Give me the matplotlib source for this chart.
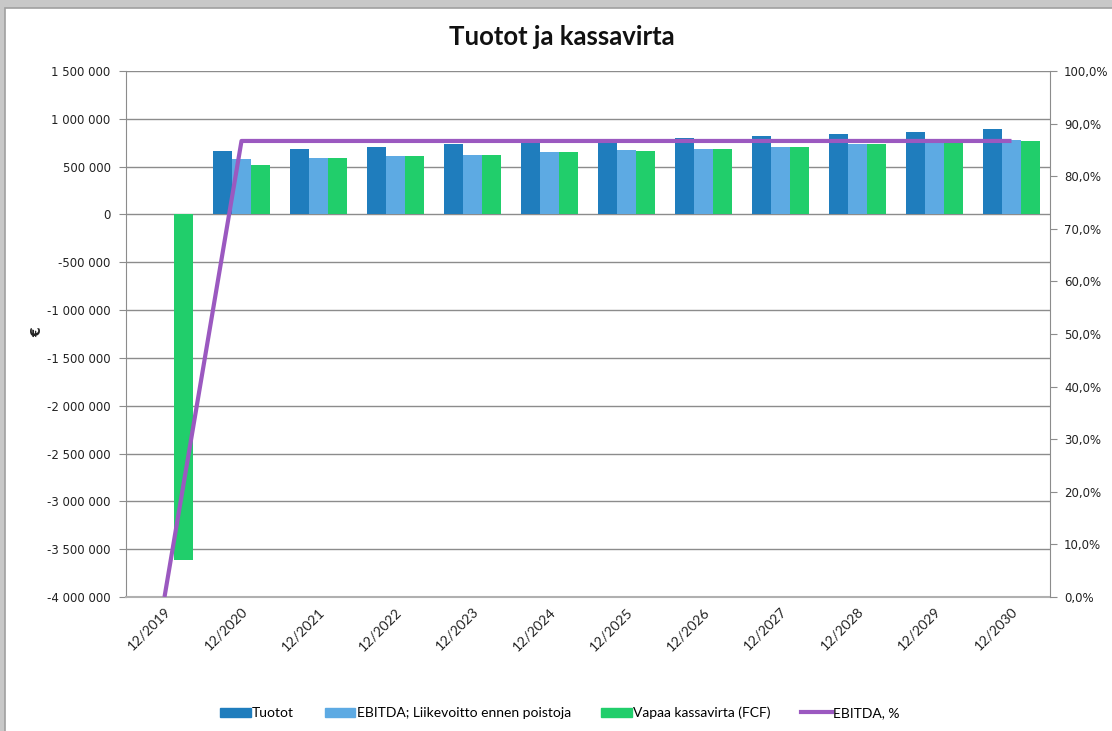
import matplotlib
matplotlib.use("Agg")
import matplotlib.pyplot as plt
from matplotlib.patches import Rectangle
from matplotlib.lines import Line2D
from matplotlib.ticker import FuncFormatter, MultipleLocator
import numpy as np

categories = ["12/2019", "12/2020", "12/2021", "12/2022", "12/2023", "12/2024",
              "12/2025", "12/2026", "12/2027", "12/2028", "12/2029", "12/2030"]
tuotot = [0, 659000, 683000, 708000, 732000, 757000, 780000, 795000, 816000, 840000, 865000, 896000]
ebitda = [0, 575000, 589000, 614000, 624000, 649000, 673000, 683000, 708000, 735000, 760000, 780000]
fcf = [-3610000, 520000, 589000, 614000, 624000, 649000, 659000, 683000, 708000, 735000, 760000, 767000]
ebitda_pct = [0.0, 86.7, 86.7, 86.7, 86.7, 86.7, 86.7, 86.7, 86.7, 86.7, 86.7, 86.7]

series_names = ["Tuotot", "EBITDA; Liikevoitto ennen poistoja", "Vapaa kassavirta (FCF)", "EBITDA, %"]
c_tuotot = "#1f7dbd"
c_ebitda = "#5daae3"
c_fcf = "#21ce6b"
c_line = "#9b59c0"
grid_c = "#8c8c8c"

W, H = 1112, 731
fig = plt.figure(figsize=(W / 100, H / 100), dpi=100)
fig.patch.set_facecolor("white")

# frame shadow
fig.patches.append(Rectangle((0, 0), 1, 1, transform=fig.transFigure,
                             facecolor="#c8c8c8", edgecolor="none", zorder=-10))
fig.patches.append(Rectangle((5 / W, -0.01), 1 - 5 / W + 0.01, 1 - 8 / H + 0.01,
                             transform=fig.transFigure,
                             facecolor="white", edgecolor="#a0a0a0", linewidth=1.2, zorder=-9))

left, right, top, bottom = 126, 1050, 71, 597
ax = fig.add_axes([left / W, 1 - bottom / H, (right - left) / W, (bottom - top) / H])
ax.set_facecolor("none")

x = np.arange(len(categories))
bw = 0.247
ax.bar(x - bw, tuotot, bw, color=c_tuotot, linewidth=0, zorder=3)
ax.bar(x, ebitda, bw, color=c_ebitda, linewidth=0, zorder=3)
ax.bar(x + bw, fcf, bw, color=c_fcf, linewidth=0, zorder=3)

ax.set_xlim(-0.5, len(categories) - 0.5)
ax.set_ylim(-4000000, 1500000)
ax.yaxis.set_major_locator(MultipleLocator(500000))

def fmt(v, pos):
    s = f"{abs(int(round(v))):,}".replace(",", " ")
    return ("-" if v < 0 else "") + s

ax.yaxis.set_major_formatter(FuncFormatter(fmt))
ax.grid(axis="y", color=grid_c, linewidth=1.0, zorder=0)
ax.set_axisbelow(True)
for s in ["top", "right"]:
    ax.spines[s].set_visible(False)
ax.spines["left"].set_color(grid_c)
ax.spines["bottom"].set_color("#b0b0b0")
ax.spines["bottom"].set_linewidth(1.5)
ax.tick_params(axis="y", direction="out", length=5, color=grid_c, labelsize=8.5, pad=6,
               labelcolor="#222222")
ax.tick_params(axis="x", length=0, pad=6)
ax.set_xticks(x)
ax.set_xticklabels(categories, rotation=45, ha="right", va="top", rotation_mode="anchor",
                   fontsize=10, family="Lato", color="#222222")
for lab in ax.get_yticklabels():
    lab.set_family("DejaVu Sans")

ax2 = ax.twinx()
ax2.set_ylim(0, 100)
ax2.plot(x, ebitda_pct, color=c_line, linewidth=3, zorder=5, solid_capstyle="butt")
ax2.yaxis.set_major_locator(MultipleLocator(10))
ax2.yaxis.set_major_formatter(FuncFormatter(lambda v, p: f"{v:.1f}%".replace(".", ",")))
for s in ["top", "left", "bottom"]:
    ax2.spines[s].set_visible(False)
ax2.spines["right"].set_color(grid_c)
ax2.tick_params(axis="y", direction="out", length=5, color=grid_c, labelsize=8.5, pad=5,
                labelcolor="#222222")
for lab in ax2.get_yticklabels():
    lab.set_family("DejaVu Sans")

fig.text(37 / W, 1 - 332 / H, "€", rotation=90, ha="center", va="center",
         fontsize=10, fontweight="bold", family="DejaVu Sans", color="#222222")
fig.text(562 / W, 1 - 37 / H, "Tuotot ja kassavirta", ha="center", va="center",
         fontsize=18.5, fontweight="bold", family="Lato", color="#111111")

handles = [Rectangle((0, 0), 1, 1, color=c_tuotot),
           Rectangle((0, 0), 1, 1, color=c_ebitda),
           Rectangle((0, 0), 1, 1, color=c_fcf),
           Line2D([0], [0], color=c_line, linewidth=3)]
fig.legend(handles, series_names, loc="center", bbox_to_anchor=(560 / W, 1 - 713 / H),
           ncol=4, frameon=False, prop={"family": "Lato", "size": 10},
           handlelength=2.2, handleheight=0.7, handletextpad=0.1, columnspacing=2.2)

fig.savefig("out.png", dpi=100)
